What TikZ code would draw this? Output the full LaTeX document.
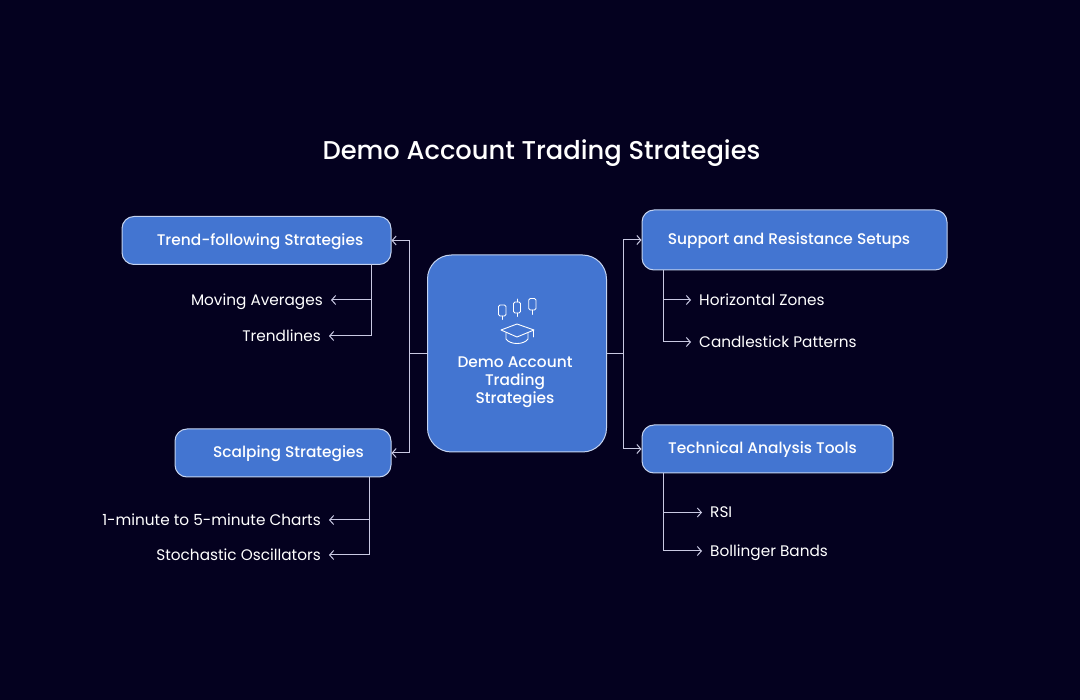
\documentclass[tikz,border=0pt]{standalone}
\usepackage{fontspec}
\setmainfont{Poppins}
\newfontfamily\boxfont{Poppins Medium}
\usepackage{xcolor}
\usetikzlibrary{arrows.meta}
\definecolor{bgnavy}{HTML}{04011F}
\definecolor{boxblue}{HTML}{4375D1}
\definecolor{boxline}{HTML}{C4D3F0}
\definecolor{linkgray}{HTML}{C9C9E2}
\tikzset{
  box/.style={draw=boxline, fill=boxblue, line width=1pt, rounded corners=12pt, text=white, inner sep=0pt, text height=13pt, text depth=3pt, font=\boxfont\fontsize{15.4}{15}\selectfont},
  leaf/.style={text=white, inner sep=8pt, text height=13pt, text depth=2pt, font=\fontsize{15.3}{15}\selectfont},
  link/.style={draw=linkgray, line width=1pt},
  tolink/.style={link, -{Straight Barb[length=4pt,width=9pt]}},
  icon/.style={draw=white, line width=0.9pt, line join=round, line cap=round}
}
\begin{document}
\begin{tikzpicture}[x=1pt,y=-1pt]
\fill [bgnavy] (0,0) rectangle (1080,700);
\useasboundingbox (0,0) rectangle (1080,700);

\node [text=white, font=\boxfont\fontsize{25.75}{25}\selectfont] (title) at (541.5,153) {Demo Account Trading Strategies};

% main boxes
\node [box, rounded corners=24pt, minimum width=179pt, minimum height=197pt] (centre) at (517,353.5) {};
\node [text=white, align=center, inner sep=0pt, font=\boxfont\fontsize{15.4}{18}\selectfont] (centrelabel) at (515,382.5) {Demo Account\\Trading\\Strategies};
\node [box, minimum width=269pt, minimum height=48pt] (trend) at (256.5,240.5) {\hspace*{7pt}Trend-following Strategies};
\node [box, minimum width=216pt, minimum height=48pt] (scalping) at (283,453) {\hspace*{11pt}Scalping Strategies};
\node [box, minimum width=305pt, minimum height=60pt] (support) at (794.5,240) {\hspace*{-11pt}Support and Resistance Setups};
\node [box, minimum width=251pt, minimum height=48pt] (technical) at (767.5,449) {\hspace*{-10pt}Technical Analysis Tools};

% sub items
\node [leaf, anchor=east] (moving) at (331,300) {Moving Averages};
\node [leaf, anchor=east] (trendlines) at (329,336) {Trendlines};
\node [leaf, anchor=east] (charts) at (329,520) {1-minute to 5-minute Charts};
\node [leaf, anchor=east] (stochastic) at (329,555) {Stochastic Oscillators};
\node [leaf, anchor=west] (zones) at (691,300) {Horizontal Zones};
\node [leaf, anchor=west] (candles) at (691,342) {Candlestick Patterns};
\node [leaf, anchor=west] (rsi) at (702,512.5) {RSI};
\node [leaf, anchor=west] (bands) at (702,551) {Bollinger Bands};

% connectors
\coordinate (leftjoin) at (409,353.5);
\coordinate (rightjoin) at (623,353.5);
\coordinate (trendfoot) at (371,264.5);
\coordinate (scalpfoot) at (369,477);
\coordinate (supportfoot) at (663,270);
\coordinate (techfoot) at (663,473);
\draw [link] (centre.west) -- (leftjoin);
\draw [link] (centre.east) -- (rightjoin);
\draw [tolink] (leftjoin) |- (trend.east);
\draw [tolink] (leftjoin) |- (scalping.east);
\draw [tolink] (rightjoin) |- (support.west);
\draw [tolink] (rightjoin) |- (technical.west);
\draw [tolink] (trendfoot) |- (moving.east);
\draw [tolink] (trendfoot) |- (trendlines.east);
\draw [tolink] (scalpfoot) |- (charts.east);
\draw [tolink] (scalpfoot) |- (stochastic.east);
\draw [tolink] (supportfoot) |- (zones.west);
\draw [tolink] (supportfoot) |- (candles.west);
\draw [tolink] (techfoot) |- (rsi.west);
\draw [tolink] (techfoot) |- (bands.west);

% candles
\draw [icon, rounded corners=1.5pt] (498.5,305) rectangle (506,316);
\draw [icon] (502.2,316) -- (502.2,319.5);
\draw [icon, rounded corners=1.5pt] (513.5,302) rectangle (520.5,313);
\draw [icon] (517,299) -- (517,302) (517,313) -- (517,316.5);
\draw [icon, rounded corners=1.5pt] (528.7,298.5) rectangle (536,310);
\draw [icon] (532.3,310) -- (532.3,314.5);
% cap
\draw [icon] (517,324) -- (501,330) -- (517,337) -- (534,330) -- cycle;
\draw [icon] (506,332.5) -- (506,339) .. controls (510,345) and (524,345) .. (528,339) -- (528,333.5);
\draw [icon] (533.7,330) -- (533.7,337);

\end{tikzpicture}
\end{document}
